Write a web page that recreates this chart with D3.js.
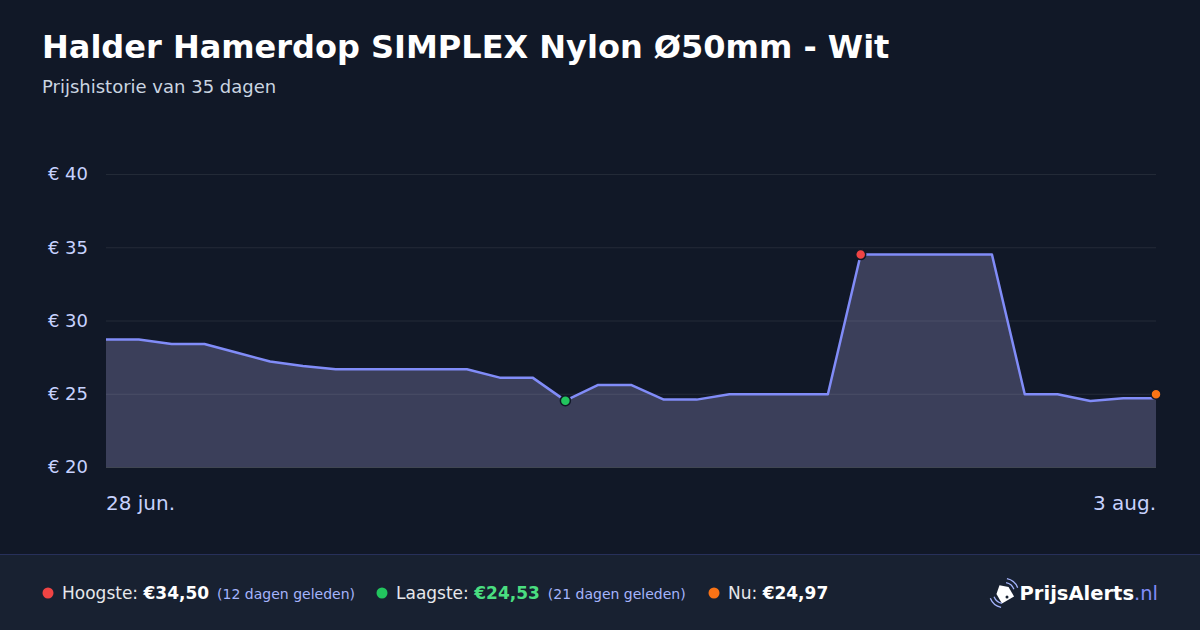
<!DOCTYPE html>
<html>
<head>
<meta charset="utf-8">
<script src="https://cdn.jsdelivr.net/npm/d3@7"></script>
<style>
  html, body { margin: 0; padding: 0; background: #111827; }
  svg { display: block; font-family: "DejaVu Sans", sans-serif; }
</style>
</head>
<body>
<div id="chart"></div>
<script>
// prijzen per meetpunt (28 jun. -> 3 aug.)
const prices = [
  28.7, 28.7, 28.4, 28.4, 27.8, 27.2, 26.9, 26.67, 26.67, 26.67, 26.67, 26.67,
  26.1, 26.1, 24.53, 25.6, 25.6, 24.6, 24.6, 24.97, 24.97, 24.97, 24.97,
  34.5, 34.5, 34.5, 34.5, 34.5, 24.97, 24.97, 24.5, 24.7, 24.7
];
const yTicks = [20, 25, 30, 35, 40];
const xLabels = ["28 jun.", "3 aug."];
const highest = 34.50, highestIdx = 23, highestAgo = 12;
const lowest = 24.53, lowestIdx = 14, lowestAgo = 21;
const current = 24.97;

const title = "Halder Hamerdop SIMPLEX Nylon Ø50mm - Wit";
const subtitle = "Prijshistorie van 35 dagen";

const width = 1200, height = 630;
const margin = {top: 174, right: 44, bottom: 163, left: 106};

const euro = v => "€" + d3.format(".2f")(v).replace(".", ",");

const svg = d3.select("#chart").append("svg")
  .attr("width", width)
  .attr("height", height);

svg.append("rect").attr("width", width).attr("height", height).attr("fill", "#111827");

// titel
svg.append("text")
  .attr("x", 42).attr("y", 58)
  .attr("fill", "#ffffff")
  .style("font-size", "32px").style("font-weight", "bold")
  .text(title);

svg.append("text")
  .attr("x", 42).attr("y", 93)
  .attr("fill", "#cbd5e1")
  .style("font-size", "18px")
  .text(subtitle);

// schalen
const x = d3.scaleLinear()
  .domain([0, prices.length - 1])
  .range([margin.left, width - margin.right]);

const y = d3.scaleLinear()
  .domain([20, 40])
  .range([height - margin.bottom, margin.top]);

// vlak + lijn
const area = d3.area()
  .x((d, i) => x(i))
  .y0(y(20))
  .y1(d => y(d));

const line = d3.line()
  .x((d, i) => x(i))
  .y(d => y(d));

svg.append("path")
  .datum(prices)
  .attr("d", area)
  .attr("fill", "#3b3f5a");

// rasterlijnen
const yAxis = d3.axisLeft(y)
  .tickValues(yTicks)
  .tickSize(-(width - margin.left - margin.right))
  .tickFormat(d => "€ " + d);

const gy = svg.append("g")
  .attr("transform", `translate(${margin.left},0)`)
  .call(yAxis);

gy.select(".domain").remove();
gy.selectAll(".tick line")
  .attr("stroke", "#ffffff")
  .attr("stroke-opacity", d => d === 20 ? 0.2 : 0.08);
gy.selectAll(".tick text")
  .attr("x", -18)
  .attr("fill", "#c7d2fe")
  .style("font-size", "18px")
  .style("font-family", "DejaVu Sans, sans-serif");

svg.append("path")
  .datum(prices)
  .attr("d", line)
  .attr("fill", "none")
  .attr("stroke", "#818cf8")
  .attr("stroke-width", 2.5)
  .attr("stroke-linejoin", "round");

// x labels
svg.append("text")
  .attr("x", x(0)).attr("y", 510)
  .attr("fill", "#c7d2fe")
  .style("font-size", "20px")
  .text(xLabels[0]);

svg.append("text")
  .attr("x", x(prices.length - 1)).attr("y", 510)
  .attr("text-anchor", "end")
  .attr("fill", "#c7d2fe")
  .style("font-size", "20px")
  .text(xLabels[1]);

// markeringen
const marks = [
  {i: highestIdx, v: highest, c: "#ef4444"},
  {i: lowestIdx, v: lowest, c: "#22c55e"},
  {i: prices.length - 1, v: current, c: "#f97316"}
];

svg.selectAll(".dot")
  .data(marks)
  .enter().append("circle")
  .attr("class", "dot")
  .attr("cx", d => x(d.i))
  .attr("cy", d => y(d.v))
  .attr("r", 5)
  .attr("fill", d => d.c)
  .attr("stroke", "#111827")
  .attr("stroke-width", 1.5);

// footer
svg.append("rect")
  .attr("x", 0).attr("y", 554)
  .attr("width", width).attr("height", height - 554)
  .attr("fill", "#182131");

svg.append("line")
  .attr("x1", 0).attr("x2", width)
  .attr("y1", 554.5).attr("y2", 554.5)
  .attr("stroke", "#27305a")
  .attr("stroke-width", 1);

const stats = [
  {x: 48, c: "#ef4444", label: "Hoogste: ", value: euro(highest), vc: "#ffffff", note: `(${highestAgo} dagen geleden)`},
  {x: 382, c: "#22c55e", label: "Laagste: ", value: euro(lowest), vc: "#4ade80", note: `(${lowestAgo} dagen geleden)`},
  {x: 714, c: "#f97316", label: "Nu: ", value: euro(current), vc: "#ffffff", note: null}
];

const fy = 599;
stats.forEach(s => {
  svg.append("circle")
    .attr("cx", s.x).attr("cy", fy - 6)
    .attr("r", 5.5)
    .attr("fill", s.c);
  const t = svg.append("text")
    .attr("x", s.x + 14).attr("y", fy)
    .attr("fill", "#e5e7eb")
    .style("font-size", "17px");
  t.append("tspan").text(s.label);
  t.append("tspan").attr("fill", s.vc).style("font-weight", "bold").style("font-size", "17px").text(s.value);
  if (s.note) {
    t.append("tspan").attr("dx", 8).attr("fill", "#a5b4fc").style("font-size", "14px").text(s.note);
  }
});

// logo
const logo = svg.append("g").attr("transform", "translate(1004,593)");
logo.append("path")
  .attr("transform", "rotate(-30)")
  .attr("d", "M-7,-3 L0,-9 L7,-3 L7,8 L-7,8 Z")
  .attr("fill", "#ffffff");
logo.append("circle")
  .attr("cx", 3).attr("cy", 4).attr("r", 1.5)
  .attr("fill", "#182131");
[10, 14].forEach(r => {
  logo.append("path")
    .attr("d", d3.arc()({innerRadius: r, outerRadius: r + 1.3, startAngle: 0.2, endAngle: 1.2}))
    .attr("fill", "#a5b4fc");
  logo.append("path")
    .attr("d", d3.arc()({innerRadius: r, outerRadius: r + 1.3, startAngle: Math.PI + 0.2, endAngle: Math.PI + 1.2}))
    .attr("fill", "#a5b4fc");
});

const lt = svg.append("text")
  .attr("x", 1158).attr("y", 600)
  .attr("text-anchor", "end")
  .style("font-size", "19.5px");
lt.append("tspan").attr("fill", "#ffffff").style("font-weight", "bold").text("PrijsAlerts");
lt.append("tspan").attr("fill", "#818cf8").text(".nl");
</script>
</body>
</html>
